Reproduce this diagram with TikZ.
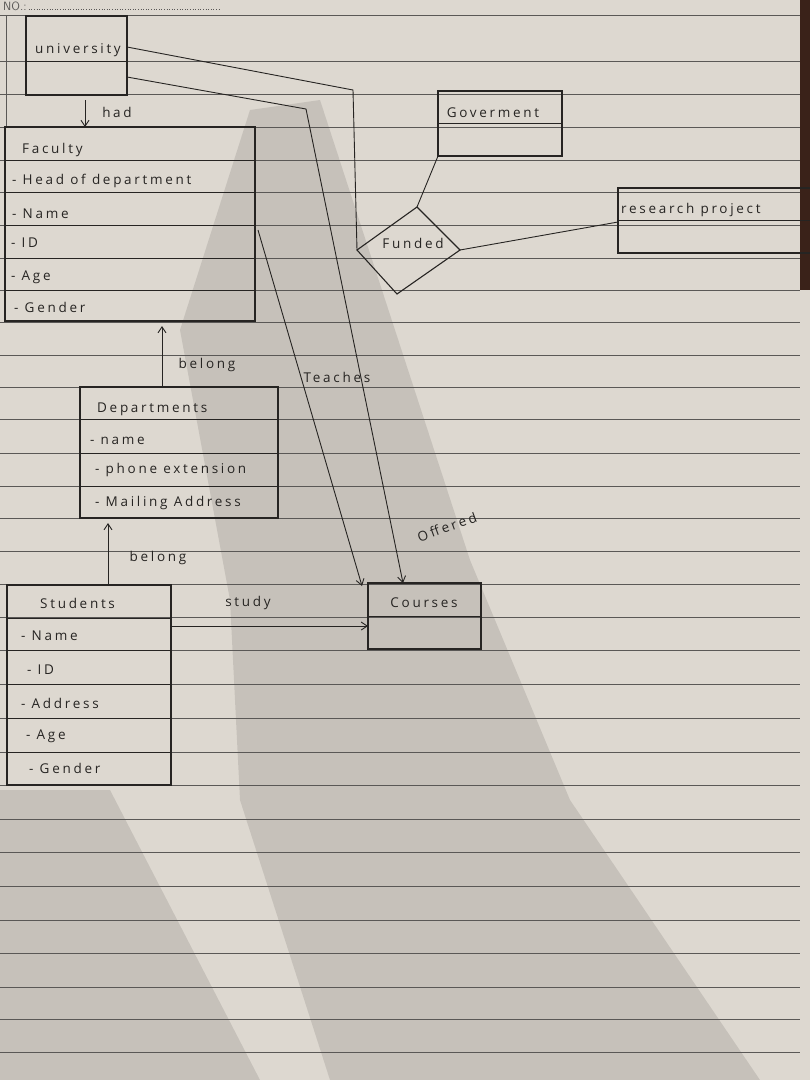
\documentclass[tikz,border=0pt]{standalone}
\usepackage{fontspec}
\usetikzlibrary{arrows.meta,calc}
\newfontfamily\hand[LetterSpace=20]{Open Sans}
\definecolor{paper}{HTML}{DDD8D0}
\definecolor{rule}{HTML}{5A5856}
\definecolor{ink}{HTML}{262422}
\definecolor{desk}{HTML}{3A2219}
\tikzset{
  ent/.style={draw=ink, line width=1.1pt, rectangle, inner sep=0pt, outer sep=0pt, anchor=north west},
  lbl/.style={text=ink, font=\hand\fontsize{13.5}{13.5}\selectfont, inner sep=0pt},
  attr/.style={lbl, anchor=west},
  wire/.style={draw=ink, line width=0.9pt},
  arr/.style={wire, -{Straight Barb[length=6pt,width=8pt]}},
  ruling/.style={draw=rule, line width=0.8pt}
}
\begin{document}
\begin{tikzpicture}[x=1pt,y=-1pt]
\fill[paper] (0,0) rectangle (810,1080);
\useasboundingbox (0,0) rectangle (810,1080);
\clip (0,0) rectangle (810,1080);
% shadows
\fill[black, opacity=0.10] (250,110) -- (320,100) -- (470,560) -- (570,800) -- (760,1080) -- (330,1080) -- (240,800) -- (230,600) -- (180,330) -- cycle;
\fill[black, opacity=0.10] (0,790) -- (110,790) -- (260,1080) -- (0,1080) -- cycle;
\fill[desk] (800,0) rectangle (810,290);
% ruled paper
\foreach \yy in {15,61,94,127,160,192,225,258,290,322,355,387,419,453,486,518,551,584,617,650,684,718,752,785,819,852,886,920,953,987,1019,1052}
  \draw[ruling] (0,\yy) -- (800,\yy);
\draw[ruling] (6,15) -- (6,127);
\node[text=rule, font=\sffamily\fontsize{12}{12}\selectfont, inner sep=0pt, anchor=west] (no) at (3,6) {NO.:};
\draw[rule, dotted, line width=0.6pt] ([xshift=2pt,yshift=-3pt]no.east) -- (220,9);

% entities
\node[ent, minimum width=101pt, minimum height=79pt] (uni) at (26,16) {};
\draw[wire] (uni.west |- 0,61) -- (uni.east |- 0,61);
\node[lbl] (tuni) at (78,50) {university};

\node[ent, minimum width=250pt, minimum height=194pt] (fac) at (5,127) {};
\foreach \yy in {160,192,225,258,290} \draw[wire] (fac.west |- 0,\yy) -- (fac.east |- 0,\yy);
\node[attr] (f0) at (22,150) {Faculty};
\node[attr] (f1) at (12,181) {- Head of department};
\node[attr] (f2) at (12,214) {- Name};
\node[attr] (f3) at (11,243) {- ID};
\node[attr] (f4) at (11,277) {- Age};
\node[attr] (f5) at (14,307) {- Gender};

\node[ent, minimum width=124pt, minimum height=65pt] (gov) at (438,91) {};
\draw[wire] (gov.west |- 0,123) -- (gov.east |- 0,123);
\node[lbl] (tgov) at (493,113) {Goverment};

\node[ent, minimum width=200pt, minimum height=65pt] (res) at (618,188) {};
\draw[wire] (res.west |- 0,220) -- (res.east |- 0,220);
\node[attr] (tres) at (621,210) {research project};

\node[ent, minimum width=198pt, minimum height=131pt] (dep) at (80,387) {};
\foreach \yy in {419,453,486} \draw[wire] (dep.west |- 0,\yy) -- (dep.east |- 0,\yy);
\node[attr] (d0) at (97,409) {Departments};
\node[attr] (d1) at (90,441) {- name};
\node[attr] (d2) at (95,470) {- phone extension};
\node[attr] (d3) at (95,503) {- Mailing Address};

\node[ent, minimum width=164pt, minimum height=200pt] (stu) at (7,585) {};
\foreach \yy in {618,650,684,718,752} \draw[wire] (stu.west |- 0,\yy) -- (stu.east |- 0,\yy);
\node[attr] (s0) at (40,603) {Students};
\node[attr] (s1) at (21,636) {- Name};
\node[attr] (s2) at (27,670) {- ID};
\node[attr] (s3) at (21,703) {- Address};
\node[attr] (s4) at (26,736) {- Age};
\node[attr] (s5) at (29,768) {- Gender};

\node[ent, minimum width=113pt, minimum height=66pt] (crs) at (368,583) {};
\draw[wire] (crs.west |- 0,616) -- (crs.east |- 0,616);
\node[lbl] (tcrs) at (424,603) {Courses};

% relationship diamond
\coordinate (dl) at (357,250);
\coordinate (dt) at (417,207);
\coordinate (dr) at (460,250);
\coordinate (db) at (397,294);
\draw[wire, line width=1.1pt] (dl) -- (dt) -- (dr) -- (db) -- cycle;
\node[lbl] (tfund) at (413,243) {Funded};

% connectors
\coordinate (ubend1) at (353,90);
\draw[wire] ([yshift=-31pt]uni.north east) -- (ubend1) -- (dl);
\coordinate (ubend2) at (306,109);
\draw[arr] ([yshift=-61pt]uni.north east) -- (ubend2) -- ([xshift=35pt]crs.north west);
\draw[arr] ([xshift=59pt,yshift=-5pt]uni.south west) -- ([xshift=80pt]fac.north west);
\node[lbl] (thad) at (117,112) {had};
\draw[wire] (gov.south west) -- (dt);
\draw[wire] (dr) -- ([yshift=-34pt]res.north west);
\draw[arr] ([xshift=3pt,yshift=-103pt]fac.north east) -- ([xshift=-6pt,yshift=-3pt]crs.north west);
\node[lbl] (tteach) at (337,377) {Teaches};
\node[lbl, rotate=20] (toff) at (447,527) {Offered};
\draw[arr] ([xshift=82pt]dep.north west) -- ([xshift=157pt,yshift=-5pt]fac.south west);
\node[lbl] (tbel1) at (207,365) {belong};
\draw[arr] ([xshift=101pt]stu.north west) -- ([xshift=28pt,yshift=-5pt]dep.south west);
\node[lbl] (tbel2) at (158,558) {belong};
\draw[arr] ([yshift=-41pt]stu.north east) -- ([yshift=-43pt]crs.north west);
\node[lbl] (tstudy) at (248,603) {study};
\end{tikzpicture}
\end{document}
